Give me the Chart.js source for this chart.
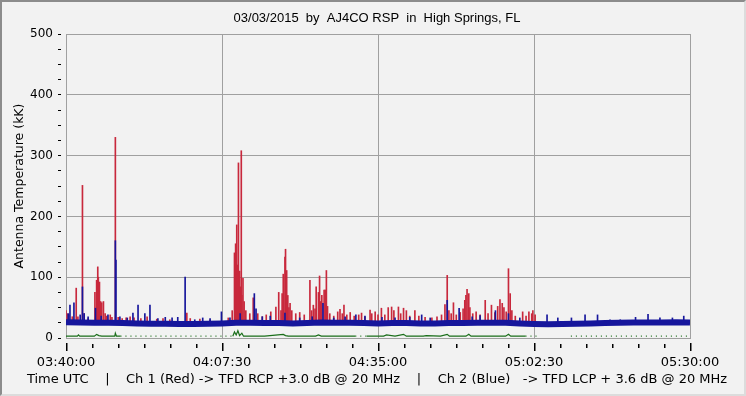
<!DOCTYPE html>
<html>
<head>
<meta charset="utf-8">
<script src="https://cdn.jsdelivr.net/npm/chart.js@4.4.1/dist/chart.umd.min.js"></script>
<style>
html, body { margin: 0; padding: 0; background: #f2f2f2; }
#frame {
    width: 746px; height: 396px; box-sizing: border-box;
    border-top: 2px solid #8c8c8c; border-left: 2px solid #8c8c8c;
    border-right: 2px solid #dcdcdc; border-bottom: 2px solid #dcdcdc;
    background: #f2f2f2;
}
#chart { display: block; }
</style>
</head>
<body>
<div id="frame"><canvas id="chart" width="742" height="392"></canvas></div>
<script>
// minutes after 03:40:00 UTC, antenna temperature in kK
const redSpikes = [
    [0.0,45],[0.3,40],[0.5,38],[1.1,35],[1.8,82],[2.1,35],[2.9,251],[3.2,40],[3.9,32],
    [5.1,75],[5.4,95],[5.6,117],[5.7,100],[5.9,92],[6.1,60],[6.3,58],[6.6,60],[6.9,40],[7.2,36],
    [7.8,38],[8.1,34],[8.7,330],[9.2,34],[9.9,32],[10.6,33],[11.3,35],[12.0,33],[13.2,32],[14.3,35],
    [16.0,31],[17.1,32],[18.3,30],[21.3,41],[21.9,32],[23.6,31],[25.4,30],[28.6,33],[29.3,45],
    [29.7,140],[29.9,155],[30.1,186],[30.2,120],[30.4,288],[30.6,110],[30.7,84],[30.9,308],[31.0,70],
    [31.2,98],[31.4,60],[31.7,45],[32.4,40],[33.0,66],[33.8,40],[34.6,35],[35.3,38],[36.1,43],
    [37.0,51],[37.5,75],[37.9,45],[38.1,73],[38.3,105],[38.6,133],[38.7,146],[38.9,111],[39.1,70],
    [39.3,50],[39.5,57],[39.8,45],[40.5,40],[41.2,42],[42.0,38],[43.0,95],[43.3,45],[43.6,54],
    [43.9,48],[44.1,84],[44.5,75],[44.7,102],[44.9,60],[45.1,70],[45.5,79],[45.7,79],[45.9,111],
    [46.1,52],[46.5,40],[47.2,36],[47.9,43],[48.3,47],[48.7,40],[49.0,54],[49.5,38],[50.1,42],
    [50.8,36],[51.6,38],[52.1,41],[52.7,35],[53.6,46],[53.9,40],[54.5,43],[55.0,38],[55.6,49],
    [56.2,38],[56.8,50],[57.4,51],[57.8,45],[58.6,51],[59.0,40],[59.5,49],[60.0,45],[60.6,36],
    [61.5,45],[62.2,36],[63.3,34],[64.5,33],[65.4,35],[66.2,38],[66.8,55],[67.2,103],[67.5,45],
    [67.9,40],[68.3,58],[68.8,38],[69.5,42],[70.0,48],[70.3,62],[70.5,70],[70.7,80],[71.0,73],
    [71.2,50],[71.7,40],[72.3,43],[73.0,38],[73.9,62],[74.4,40],[75.0,54],[75.6,42],[76.1,52],
    [76.5,63],[76.9,57],[77.2,50],[77.6,43],[78.0,114],[78.3,73],[78.6,45],[79.2,36],[80.5,43],
    [81.1,36],[81.6,43],[82.1,40],[82.3,45],[82.7,38]
];
const blueSpikes = [
    [0.4,40],[0.7,54],[1.4,58],[2.5,38],[2.9,84],[3.2,40],[3.9,35],[5.2,49],[6.2,36],[7.4,38],
    [8.7,160],[8.8,128],[9.5,35],[10.8,33],[11.8,41],[12.7,54],[13.9,40],[14.8,54],[16.2,32],
    [17.5,34],[18.7,33],[19.7,34],[21.0,100],[22.7,30],[24.1,33],[25.4,32],[27.4,43],[28.9,33],
    [30.7,40],[33.2,73],[33.5,48],[34.6,35],[36.0,36],[38.6,41],[41.2,33],[43.4,35],[45.3,57],
    [47.2,33],[49.2,35],[51.1,38],[52.7,36],[55.7,34],[58.0,33],[60.6,34],[62.7,38],[64.2,33],
    [67.2,62],[69.3,49],[71.6,35],[73.0,37],[75.7,45],[78.0,40],[80.0,33],[84.8,38],[86.7,33],
    [89.1,33],[91.5,38],[93.7,38],[95.9,30],[97.7,30],[100.4,34],[102.6,39],[104.7,33],
    [106.9,33],[108.9,36]
];
const blueBand = [
    [0,26],[2.5,25.5],[5,25],[7.5,25],[10,24.5],[12.5,24],[15,23.5],[17.5,23.5],[20,23],[22.5,23],
    [25,23.5],[27.5,24],[30,25],[32.5,25],[35,24.5],[37.5,24.5],[40,24],[42.5,24.5],[45,25.5],
    [47.5,25],[50,25],[52.5,24.5],[55,24],[57.5,24.5],[60,24.5],[62.5,24],[65,24],[67.5,24.5],
    [70,24.5],[72.5,25],[75,25],[77.5,25],[80,24],[82.5,23],[85,22.5],[87.5,23],[90,23.5],
    [92.5,24],[95,24.5],[97.5,25],[100,25.5],[102.5,25.5],[105,25.5],[107.5,26],[110,25.5]
];
const greenSolid = [
    [0,3],[2,3],[2.2,5],[2.4,3],[5,3],[5.4,6],[5.8,4],[6.3,3],[8.6,3],[8.7,8],[8.9,3],[9.6,3],[9.7,null],
    [29.4,3],[29.7,10],[30,5],[30.3,12],[30.6,4],[31,8],[31.3,3],[35,3],[38.3,6],[38.7,4],[39.2,3],
    [44,3],[44.5,5],[45,3],[51,3],[52,null],
    [53,3],[56,3],[56.5,5],[58,3],[59.5,6],[60,3],[63,3],[63.5,4],[66,3],[67.2,6],[67.6,3],
    [70.5,3],[71,6],[71.4,3],[77.5,3],[78,6],[78.4,3],[81,3]
];
const greenDotted = [
    [9.6,3],[29.4,3],[30,null],[51,3],[53,3],[54,null],[81,3],[83,3],[84,null],[89,3],[110,3]
];
const startSec = 3 * 3600 + 40 * 60;
const spanSec = 6600;
const minorStep = 275;
const majorStep = 1650;

function hhmmss(sec) {
    const t = startSec + sec;
    return [Math.floor(t / 3600), Math.floor(t % 3600 / 60), t % 60]
        .map(n => String(n).padStart(2, '0')).join(':');
}
const pts = arr => arr.map(p => ({ x: Math.round(p[0] * 60), y: p[1] }));
const spikeBars = (arr, base) => arr.map(p => ({ x: Math.round(p[0] * 60), y: [base, p[1]] }));

const gridCol = '#a0a0a0';
const font = 'DejaVu Sans';

// time-axis tick marks, drawn a few pixels below the axis line
const timeTicks = {
    id: 'timeTicks',
    afterDraw(chart) {
        const sc = chart.scales.x, ctx = chart.ctx;
        const y0 = chart.chartArea.bottom;
        ctx.save();
        ctx.fillStyle = '#000000';
        for (let v = 0; v <= spanSec; v += minorStep) {
            const x = Math.round(sc.getPixelForValue(v));
            const major = v % majorStep === 0;
            ctx.fillRect(x, y0 + (major ? 5 : 6), 1.5, major ? 8 : 4);
        }
        ctx.restore();
    }
};

new Chart(document.getElementById('chart'), {
    type: 'bar',
    data: {
        datasets: [
            { type: 'line', data: pts(blueBand), borderColor: '#16169c', borderWidth: 6, pointRadius: 0, tension: 0, order: 1 },
            { type: 'bar', data: spikeBars(blueSpikes, 22), backgroundColor: '#16169c', barThickness: 1, grouped: false, order: 2 },
            { type: 'bar', data: spikeBars(redSpikes, 22), backgroundColor: '#c8283c', barThickness: 1, grouped: false, order: 3 },
            { type: 'line', data: pts(greenSolid), borderColor: '#1a6e1a', borderWidth: 1.2, pointRadius: 0, spanGaps: false, order: 4 },
            { type: 'line', data: pts(greenDotted), borderColor: '#1a6e1a', borderWidth: 1.2, borderDash: [1, 4], pointRadius: 0, spanGaps: false, order: 5 }
        ]
    },
    plugins: [timeTicks],
    options: {
        responsive: false,
        animation: false,
        layout: { padding: { left: 8, right: 0, top: 0, bottom: 0 } },
        plugins: {
            legend: { display: false },
            tooltip: { enabled: false },
            title: {
                display: true,
                text: '03/03/2015  by  AJ4CO RSP  in  High Springs, FL',
                color: '#000',
                font: { family: 'Liberation Sans', size: 13, weight: 'normal' },
                padding: { top: 8.2, bottom: 8.2 }
            },
            subtitle: {
                display: true,
                position: 'bottom',
                text: 'Time UTC    |    Ch 1 (Red) -> TFD RCP +3.0 dB @ 20 MHz    |    Ch 2 (Blue)   -> TFD LCP + 3.6 dB @ 20 MHz',
                color: '#000',
                font: { family: font, size: 13, weight: 'normal' },
                padding: { top: 0, bottom: 6.2 }
            }
        },
        scales: {
            x: {
                type: 'linear', min: 0, max: spanSec, offset: false,
                afterFit: s => { s.height = 34.2; },
                border: { color: gridCol },
                grid: {
                    offset: false,
                    color: c => c.tick && c.tick.value % majorStep === 0 ? gridCol : 'transparent',
                    tickColor: 'transparent', tickLength: 11
                },
                ticks: {
                    stepSize: minorStep, autoSkip: false, maxRotation: 0, padding: 6,
                    color: '#000', font: { family: font, size: 13 },
                    callback: v => v % majorStep === 0 ? hhmmss(v) : ''
                }
            },
            y: {
                min: 0, max: 500,
                afterFit: s => { s.width = 56; },
                border: { color: gridCol },
                grid: {
                    color: c => c.tick && c.tick.value % 100 === 0 ? gridCol : 'transparent',
                    tickColor: '#000', tickLength: 8, tickBorderDash: [3, 10]
                },
                ticks: {
                    stepSize: 25, autoSkip: false, padding: 5,
                    color: '#000', font: { family: font, size: 12 },
                    callback: v => v % 100 === 0 ? v : ''
                },
                title: {
                    display: true, text: 'Antenna Temperature (kK)', color: '#000',
                    font: { family: font, size: 12.5 }, padding: { top: 2.5, bottom: 0 }
                }
            },
            yRight: {
                position: 'right', min: 0, max: 500,
                afterFit: s => { s.width = 54; },
                ticks: { display: false },
                grid: { display: false },
                border: { display: false }
            }
        }
    }
});
</script>
</body>
</html>
